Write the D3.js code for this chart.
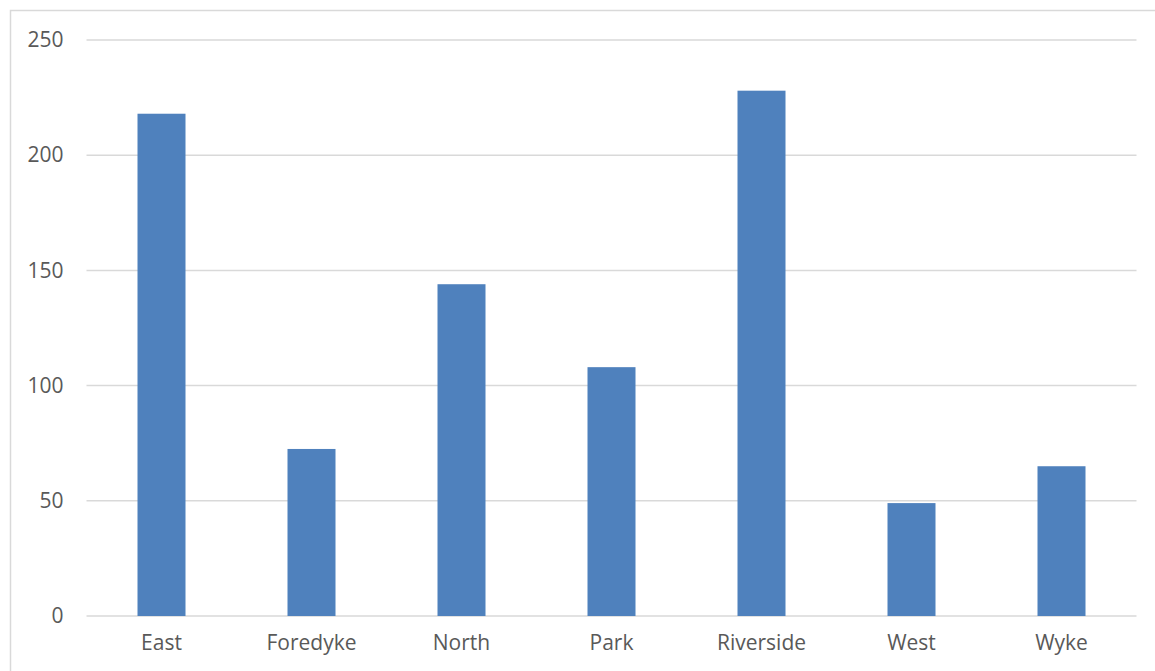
<!DOCTYPE html>
<html lang="en">
<head>
<meta charset="utf-8">
<title>Bar chart</title>
<script src="https://d3js.org/d3.v7.min.js"></script>
<style>
    body { margin: 0; background: #fff; }
    .tick text { font-family: "Open Sans", sans-serif; fill: #595959; }
</style>
</head>
<body>
<div id="chart"></div>
<script>
    const categories = ["East", "Foredyke", "North", "Park", "Riverside", "West", "Wyke"];
    const values = [218, 72.5, 144, 108, 228, 49, 65];
    const yTicks = [0, 50, 100, 150, 200, 250];

    let W = 1155, H = 671;
    let margin = {top: 40, right: 19, bottom: 55, left: 86.5};
    let width = 1136.5 - margin.left,
        height = 616 - margin.top;

    let svg = d3.select("#chart").append("svg")
        .attr("width", W)
        .attr("height", H);

    // outer chart border (runs off the right and bottom edge)
    svg.append("rect")
        .attr("x", 10.5).attr("y", 10.5)
        .attr("width", W + 20).attr("height", H + 20)
        .attr("fill", "none")
        .attr("stroke", "#d9d9d9")
        .attr("stroke-width", 1.5);

    let g = svg.append("g")
        .attr("transform", "translate(" + margin.left + "," + margin.top + ")");

    let x = d3.scaleBand()
        .domain(categories)
        .range([0, width])
        .paddingInner(0.68)
        .paddingOuter(0.34);

    let y = d3.scaleLinear()
        .domain([0, 250])
        .range([height, 0]);

    // gridlines
    g.append("g")
        .selectAll("line")
        .data(yTicks)
        .enter().append("line")
        .attr("x1", 0).attr("x2", width)
        .attr("y1", d => y(d)).attr("y2", d => y(d))
        .attr("stroke", "#d9d9d9")
        .attr("stroke-width", 1.5);

    // bars
    g.selectAll(".bar")
        .data(values)
        .enter().append("rect")
        .attr("class", "bar")
        .attr("x", (d, i) => x(categories[i]))
        .attr("width", x.bandwidth())
        .attr("y", d => y(d))
        .attr("height", d => height - y(d))
        .attr("fill", "#4f81bd");

    // y axis labels
    let yAxis = d3.axisLeft(y).tickValues(yTicks).tickSize(0).tickPadding(23);
    g.append("g").call(yAxis)
        .call(s => s.select(".domain").remove())
        .selectAll("text").style("font-size", "21px");

    // x axis labels
    let xAxis = d3.axisBottom(x).tickSize(0).tickPadding(19);
    g.append("g")
        .attr("transform", "translate(0," + height + ")")
        .call(xAxis)
        .call(s => s.select(".domain").remove())
        .selectAll("text").style("font-size", "21px");
</script>
</body>
</html>
